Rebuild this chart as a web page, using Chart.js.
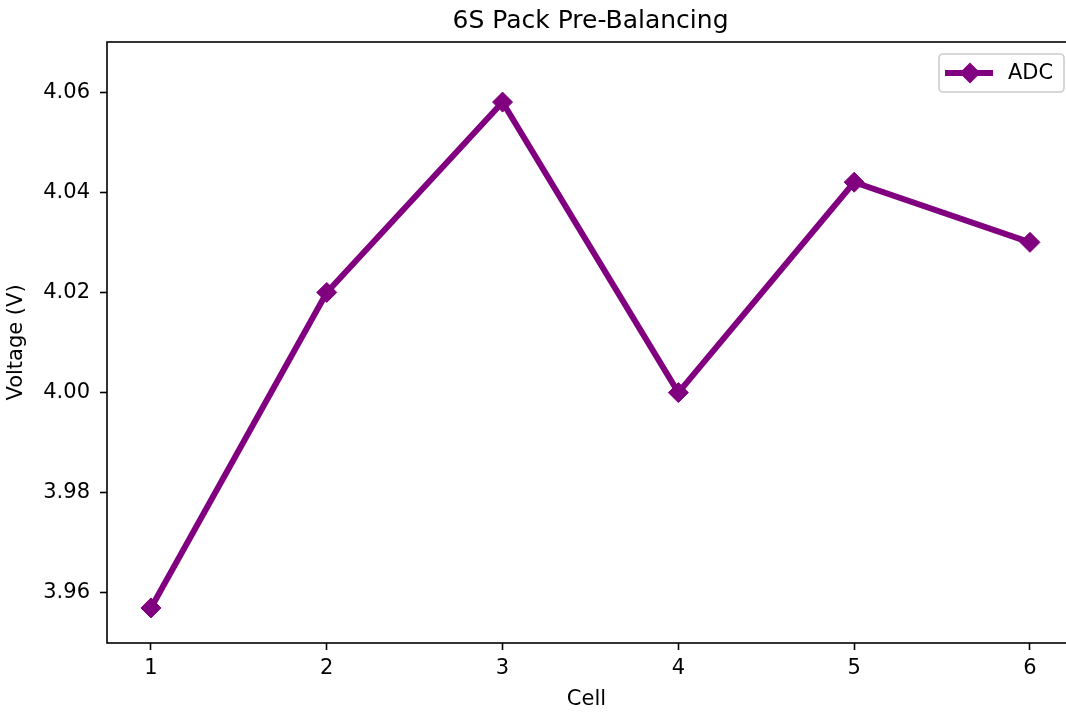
<!DOCTYPE html>
<html>
<head>
<meta charset="utf-8">
<title>6S Pack Pre-Balancing</title>
<script src="https://cdn.jsdelivr.net/npm/chart.js@4/dist/chart.umd.min.js"></script>
<style>
  html, body { margin: 0; padding: 0; background: #fff; overflow: hidden; }
</style>
</head>
<body>
<canvas id="chart" width="1066" height="715"></canvas>
<script>
// Cell numbers and measured voltages
const cells = [1, 2, 3, 4, 5, 6];
const voltages = [3.957, 4.020, 4.058, 4.000, 4.042, 4.030];
const yTicks = [3.96, 3.98, 4.00, 4.02, 4.04, 4.06];
const seriesLabel = 'ADC';
const titleText = '6S Pack Pre-Balancing';
const xTitle = 'Cell';
const yTitle = 'Voltage (V)';

const PURPLE = '#800080';
const FONT = 'DejaVu Sans, Verdana, sans-serif';

// The axes box continues a few pixels past the right edge of the canvas,
// so the title and legend are placed against its full width.
const AXES_RIGHT = 1074;

// Title, axes frame and legend drawn on top of the plot
const framePlugin = {
  id: 'frame',
  afterDraw(chart) {
    const { ctx, chartArea: a } = chart;
    ctx.save();
    // frame (right side lies beyond the canvas)
    ctx.strokeStyle = '#000';
    ctx.lineWidth = 1.6;
    ctx.strokeRect(a.left, a.top, AXES_RIGHT - a.left, a.bottom - a.top);
    // title
    ctx.fillStyle = '#000';
    ctx.font = '25px ' + FONT;
    ctx.textAlign = 'center';
    ctx.textBaseline = 'alphabetic';
    ctx.fillText(titleText, (a.left + AXES_RIGHT) / 2, 27.5);

    // legend
    const ds = chart.data.datasets[0];
    const bx = AXES_RIGHT - 135, by = a.top + 12, bw = 125, bh = 38, r = 4;
    ctx.beginPath();
    ctx.moveTo(bx + r, by);
    ctx.arcTo(bx + bw, by, bx + bw, by + bh, r);
    ctx.arcTo(bx + bw, by + bh, bx, by + bh, r);
    ctx.arcTo(bx, by + bh, bx, by, r);
    ctx.arcTo(bx, by, bx + bw, by, r);
    ctx.closePath();
    ctx.fillStyle = 'rgba(255,255,255,0.8)';
    ctx.fill();
    ctx.strokeStyle = '#cccccc';
    ctx.lineWidth = 1.6;
    ctx.stroke();
    const ly = by + bh / 2;
    ctx.strokeStyle = ds.borderColor;
    ctx.lineWidth = ds.borderWidth;
    ctx.beginPath();
    ctx.moveTo(bx + 6, ly);
    ctx.lineTo(bx + 54, ly);
    ctx.stroke();
    const mr = ds.pointRadius + 0.5;
    ctx.fillStyle = ds.pointBackgroundColor;
    ctx.beginPath();
    ctx.moveTo(bx + 31 - mr, ly);
    ctx.lineTo(bx + 31, ly - mr);
    ctx.lineTo(bx + 31 + mr, ly);
    ctx.lineTo(bx + 31, ly + mr);
    ctx.closePath();
    ctx.fill();
    ctx.fillStyle = '#000';
    ctx.font = '21px ' + FONT;
    ctx.textAlign = 'left';
    ctx.textBaseline = 'middle';
    ctx.fillText(ds.label, bx + 69, ly + 1);
    ctx.restore();
  }
};

const tickGrid = {
  display: true,
  drawOnChartArea: false,
  drawTicks: true,
  tickLength: 7,
  tickColor: '#000',
  tickWidth: 1.6
};

new Chart(document.getElementById('chart'), {
  type: 'line',
  data: {
    datasets: [{
      label: seriesLabel,
      data: cells.map((c, i) => ({ x: c, y: voltages[i] })),
      borderColor: PURPLE,
      backgroundColor: PURPLE,
      borderWidth: 6,
      pointStyle: 'rectRot',
      pointRadius: 10,
      pointBackgroundColor: PURPLE,
      pointBorderColor: PURPLE,
      pointBorderWidth: 1,
      tension: 0,
      fill: false
    }]
  },
  options: {
    responsive: false,
    animation: false,
    devicePixelRatio: 1,
    layout: { autoPadding: false, padding: { top: 42, right: 0, left: 0, bottom: 0 } },
    plugins: {
      legend: { display: false },
      title: { display: false },
      tooltip: { enabled: false }
    },
    scales: {
      x: {
        type: 'linear',
        min: 0.75,
        max: 6.205,
        grid: tickGrid,
        border: { display: false },
        afterBuildTicks: s => { s.ticks = cells.map(v => ({ value: v })); },
        afterFit: s => { s.height = 72; s.paddingLeft = 0; s.paddingRight = 0; },
        ticks: {
          color: '#000',
          font: { family: FONT, size: 21 },
          padding: 6,
          maxRotation: 0,
          callback: v => String(v)
        },
        title: {
          display: true,
          text: xTitle,
          color: '#000',
          font: { family: FONT, size: 21 },
          padding: { top: 0, bottom: 3 }
        }
      },
      y: {
        type: 'linear',
        min: 3.95,
        max: 4.07,
        grid: tickGrid,
        border: { display: false },
        afterBuildTicks: s => { s.ticks = yTicks.map(v => ({ value: v })); },
        afterFit: s => { s.width = 107; s.paddingTop = 0; s.paddingBottom = 0; },
        ticks: {
          color: '#000',
          font: { family: FONT, size: 21 },
          padding: 10,
          callback: v => Number(v).toFixed(2)
        },
        title: {
          display: true,
          text: yTitle,
          color: '#000',
          font: { family: FONT, size: 21 },
          padding: { top: 4, bottom: 0 }
        }
      }
    }
  },
  plugins: [framePlugin]
});
</script>
</body>
</html>
